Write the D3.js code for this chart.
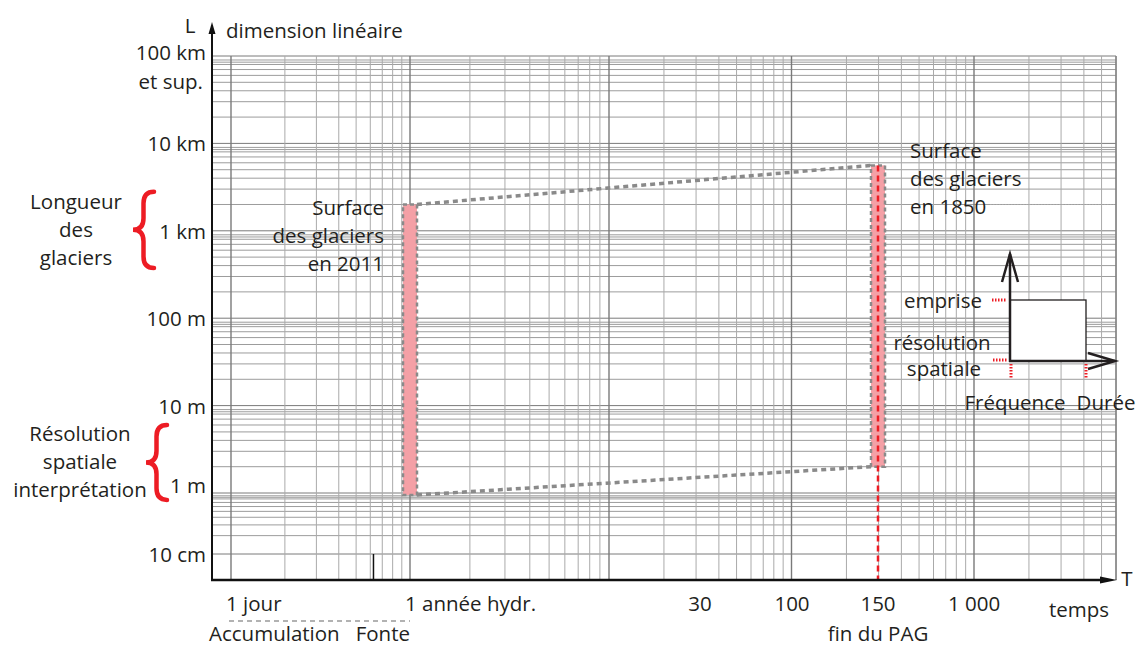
<!DOCTYPE html>
<html lang="fr">
<head>
<meta charset="UTF-8">
<title>Échelles spatio-temporelles des glaciers</title>
<script src="https://cdn.jsdelivr.net/npm/d3@7"></script>
<style>
    body { margin: 0; background: #fff; }
    svg text { font-family: "Open Sans", sans-serif; font-size: 20.5px; fill: #231f20; }
</style>
</head>
<body>
<svg id="chart" width="1146" height="648"></svg>
<script>
// ---- données ----
var lengthTicks = [1e5, 1e4, 1e3, 100, 10, 1, 0.1];   // mètres
var lengthLabels = ["100 km", "10 km", "1 km", "100 m", "10 m", "1 m", "10 cm"];
var timeTicks = [1 / 365, 1, 30, 100, 150, 1000];      // années
var timeLabels = ["1 jour", "1 année hydr.", "30", "100", "150", "1 000"];
var timeAnchors = ["start", "start", "middle", "middle", "middle", "middle"];

var surfaceYears = ["2011", "1850"];
var surfaceTime = [1, 150];          // années
var surfaceMin = [0.93, 2];          // m
var surfaceMax = [2000, 5600];       // m

var braceLabels = [["Longueur", "des", "glaciers"], ["Résolution", "spatiale", "interprétation"]];
var braceMin = [375, 0.77];
var braceMax = [2800, 6];

var seasonSplit = 0.3;   // accumulation / fonte, en année

// papier log du fond
var paperDecadesX = [1, 10, 100, 1000, 10000];
var paperStepsX = [1, 2, 3, 4, 5, 6, 7, 8, 9];
var paperEndX = 60000;
var paperDecadesY = [0.1, 1, 10, 100, 1000, 10000];
var paperStepsY = [1, 2, 3, 4, 5, 6, 7, 8, 8.5, 9];

// ---- mise en page ----
var svg = d3.select("#chart");
var axisX0 = 212, axisY0 = 580, gridTop = 56;

var x = d3.scaleLog().domain(timeTicks).range([231, 410, 700, 792, 878, 974]);
var xPaper = d3.scaleLog().domain([1, 10, 100, 10000]).range([231, 410, 609, 974]);
var y = d3.scaleLog().domain([1e5, 1, 0.1]).range([gridTop, 493, 554]);

// grille
var vLines = [];
paperDecadesX.forEach(function(d) {
    paperStepsX.forEach(function(s) {
        var v = d * s;
        if (v <= paperEndX) vLines.push({v: v, major: s === 1});
    });
});
vLines.push({v: paperEndX, major: true});

var hLines = [];
paperDecadesY.forEach(function(d) {
    paperStepsY.forEach(function(s) {
        var v = d * s;
        if (v >= 0.1 && v <= 1e5) hLines.push({v: v, major: s === 1});
    });
});
hLines.push({v: 1e5, major: true});

var grid = svg.append("g").attr("class", "grid");
grid.selectAll("line.h").data(hLines).enter().append("line")
    .attr("class", "h")
    .attr("x1", axisX0).attr("x2", xPaper(paperEndX))
    .attr("y1", function(d) { return y(d.v); })
    .attr("y2", function(d) { return y(d.v); })
    .attr("stroke", function(d) { return d.major ? "#7a7a7a" : "#9c9c9c"; })
    .attr("stroke-width", 1);

grid.selectAll("line.v").data(vLines).enter().append("line")
    .attr("class", "v")
    .attr("x1", function(d) { return xPaper(d.v); })
    .attr("x2", function(d) { return xPaper(d.v); })
    .attr("y1", gridTop).attr("y2", axisY0)
    .attr("stroke", function(d) { return d.major ? "#7a7a7a" : "#aaaaaa"; })
    .attr("stroke-width", function(d) { return d.major ? 1.4 : 1; });

// limite accumulation / fonte
svg.append("line")
    .attr("x1", x(seasonSplit)).attr("x2", x(seasonSplit))
    .attr("y1", y(0.1)).attr("y2", axisY0)
    .attr("stroke", "#111").attr("stroke-width", 1.5);

// report de la surface 2011 vers la droite
svg.append("line")
    .attr("x1", 990).attr("x2", xPaper(paperEndX))
    .attr("y1", y(surfaceMax[0])).attr("y2", y(surfaceMax[0]))
    .attr("stroke", "#aaa").attr("stroke-width", 1.2)
    .attr("stroke-dasharray", "1.5 1.5");

// liaisons pointillées entre les deux états
var barW = 14;
[[surfaceMax[0], surfaceMax[1]], [surfaceMin[0], surfaceMin[1]]].forEach(function(p) {
    svg.append("line")
        .attr("x1", x(surfaceTime[0]) + barW / 2).attr("y1", y(p[0]))
        .attr("x2", x(surfaceTime[1]) - barW / 2).attr("y2", y(p[1]))
        .attr("stroke", "#8a8a8a").attr("stroke-width", 3.5)
        .attr("stroke-dasharray", "5 4");
});

// barres
surfaceYears.forEach(function(yr, i) {
    svg.append("rect")
        .attr("x", x(surfaceTime[i]) - barW / 2)
        .attr("y", y(surfaceMax[i]))
        .attr("width", barW)
        .attr("height", y(surfaceMin[i]) - y(surfaceMax[i]))
        .attr("fill", "#f4a0a6")
        .attr("stroke", "#8a8a8a").attr("stroke-width", 2.5)
        .attr("stroke-dasharray", "4 3");
});

// fin du PAG
svg.append("line")
    .attr("x1", x(surfaceTime[1])).attr("x2", x(surfaceTime[1]))
    .attr("y1", y(surfaceMax[1])).attr("y2", axisY0)
    .attr("stroke", "#ed1c24").attr("stroke-width", 2.5)
    .attr("stroke-dasharray", "6 4");

// axes
svg.append("line").attr("x1", axisX0).attr("x2", axisX0).attr("y1", axisY0).attr("y2", 30)
    .attr("stroke", "#111").attr("stroke-width", 2);
svg.append("path").attr("d", "M" + axisX0 + ",22 L" + (axisX0 - 3.5) + ",34 L" + (axisX0 + 3.5) + ",34 Z")
    .attr("fill", "#111");
svg.append("line").attr("x1", axisX0 - 1).attr("x2", 1106).attr("y1", axisY0).attr("y2", axisY0)
    .attr("stroke", "#111").attr("stroke-width", 2.5);
svg.append("path").attr("d", "M1117," + axisY0 + " L1100," + (axisY0 - 3.5) + " L1100," + (axisY0 + 3.5) + " Z")
    .attr("fill", "#111");

svg.append("text").attr("x", 190).attr("y", 25).attr("text-anchor", "middle")
    .attr("dominant-baseline", "central").text("L");
svg.append("text").attr("x", 226).attr("y", 30)
    .attr("dominant-baseline", "central").text("dimension linéaire");
svg.append("text").attr("x", 1127).attr("y", 578).attr("text-anchor", "middle")
    .attr("dominant-baseline", "central").text("T");
svg.append("text").attr("x", 1079).attr("y", 609).attr("text-anchor", "middle")
    .attr("dominant-baseline", "central").text("temps");

// graduations L
svg.selectAll("text.ly").data(lengthTicks).enter().append("text")
    .attr("class", "ly")
    .attr("x", 206).attr("y", function(d) {
        return y(d) - (d === 1 ? 8 : 0) - (d === 1e5 ? 4 : 0);
    })
    .attr("text-anchor", "end").attr("dominant-baseline", "central")
    .text(function(d, i) { return lengthLabels[i]; });
svg.append("text").attr("x", 203).attr("y", y(lengthTicks[0]) + 25)
    .attr("text-anchor", "end").attr("dominant-baseline", "central").text("et sup.");

// graduations T
svg.selectAll("text.tx").data(timeTicks).enter().append("text")
    .attr("class", "tx")
    .attr("x", function(d, i) { return x(d) + (timeAnchors[i] === "start" ? -5 : 0); })
    .attr("y", 603)
    .attr("text-anchor", function(d, i) { return timeAnchors[i]; })
    .attr("dominant-baseline", "central")
    .text(function(d, i) { return timeLabels[i]; });

svg.append("line")
    .attr("x1", x(timeTicks[0]) - 2).attr("x2", x(timeTicks[1]))
    .attr("y1", 621).attr("y2", 621)
    .attr("stroke", "#999").attr("stroke-width", 1.5).attr("stroke-dasharray", "5 4");
var bottomY = 633;
var fonte = svg.append("text").attr("x", x(timeTicks[1])).attr("y", bottomY)
    .attr("text-anchor", "end").attr("dominant-baseline", "central").text("Fonte");
svg.append("text").attr("x", x(timeTicks[1]) - fonte.node().getComputedTextLength() - 16).attr("y", bottomY)
    .attr("text-anchor", "end").attr("dominant-baseline", "central").text("Accumulation");
svg.append("text").attr("x", x(surfaceTime[1])).attr("y", bottomY)
    .attr("text-anchor", "middle").attr("dominant-baseline", "central").text("fin du PAG");

// étiquettes des surfaces
var lab2011 = ["Surface", "des glaciers", "en " + surfaceYears[0]];
lab2011.forEach(function(t, k) {
    svg.append("text").attr("x", x(surfaceTime[0]) - 26).attr("y", y(surfaceMax[0]) + 3 + k * 28)
        .attr("text-anchor", "end").attr("dominant-baseline", "central").text(t);
});
var lab1850 = ["Surface", "des glaciers", "en " + surfaceYears[1]];
lab1850.forEach(function(t, k) {
    svg.append("text").attr("x", x(surfaceTime[1]) + 32).attr("y", y(surfaceMax[1]) - 15 + k * 28)
        .attr("dominant-baseline", "central").text(t);
});

// accolades
function bracePath(xTip, xEnd, y0, y1) {
    var xm = (xTip + xEnd) / 2, ym = (y0 + y1) / 2, c = (xEnd - xTip) * 0.55;
    return "M" + xEnd + "," + y0 +
        " Q" + xm + "," + y0 + " " + xm + "," + (y0 + c) +
        " L" + xm + "," + (ym - c) +
        " Q" + xm + "," + ym + " " + xTip + "," + ym +
        " Q" + xm + "," + ym + " " + xm + "," + (ym + c) +
        " L" + xm + "," + (y1 - c) +
        " Q" + xm + "," + y1 + " " + xEnd + "," + y1;
}
var braceTipX = [133, 146], braceLabelX = [76, 80];
braceLabels.forEach(function(lines, i) {
    var y0 = y(braceMax[i]), y1 = y(braceMin[i]);
    svg.append("path")
        .attr("d", bracePath(braceTipX[i], braceTipX[i] + 21, y0, y1))
        .attr("fill", "none").attr("stroke", "#ed1c24")
        .attr("stroke-width", 4.5).attr("stroke-linecap", "round");
    var ym = (y0 + y1) / 2;
    lines.forEach(function(t, k) {
        svg.append("text").attr("x", braceLabelX[i]).attr("y", ym - 29 + k * 28)
            .attr("text-anchor", "middle").attr("dominant-baseline", "central").text(t);
    });
});

// petit schéma emprise / résolution
var lg = svg.append("g");
lg.append("rect").attr("x", 1010).attr("y", 300).attr("width", 76).attr("height", 61)
    .attr("fill", "#fff").attr("stroke", "#231f20").attr("stroke-width", 1.3);
lg.append("line").attr("x1", 1010).attr("x2", 1010).attr("y1", 362).attr("y2", 254)
    .attr("stroke", "#231f20").attr("stroke-width", 2.5);
lg.append("path").attr("d", "M1002,282 L1010,254 L1018,282")
    .attr("fill", "none").attr("stroke", "#231f20").attr("stroke-width", 2.5);
lg.append("line").attr("x1", 1009).attr("x2", 1115).attr("y1", 361).attr("y2", 361)
    .attr("stroke", "#231f20").attr("stroke-width", 2.5);
lg.append("path").attr("d", "M1088,353 L1115,361 L1088,369")
    .attr("fill", "none").attr("stroke", "#231f20").attr("stroke-width", 2.5);
[[992, 300, 1007, 300], [993, 360, 1007, 360], [1011, 364, 1011, 378], [1086, 364, 1086, 378]].forEach(function(s) {
    lg.append("line").attr("x1", s[0]).attr("y1", s[1]).attr("x2", s[2]).attr("y2", s[3])
        .attr("stroke", "#ed1c24").attr("stroke-width", 3).attr("stroke-dasharray", "1.5 1.5");
});
[["emprise", 943, 300], ["résolution", 942, 342], ["spatiale", 944, 368],
 ["Fréquence", 1015, 402], ["Durée", 1106, 402]].forEach(function(t) {
    lg.append("text").attr("x", t[1]).attr("y", t[2]).attr("text-anchor", "middle")
        .attr("dominant-baseline", "central").text(t[0]);
});
</script>
</body>
</html>
